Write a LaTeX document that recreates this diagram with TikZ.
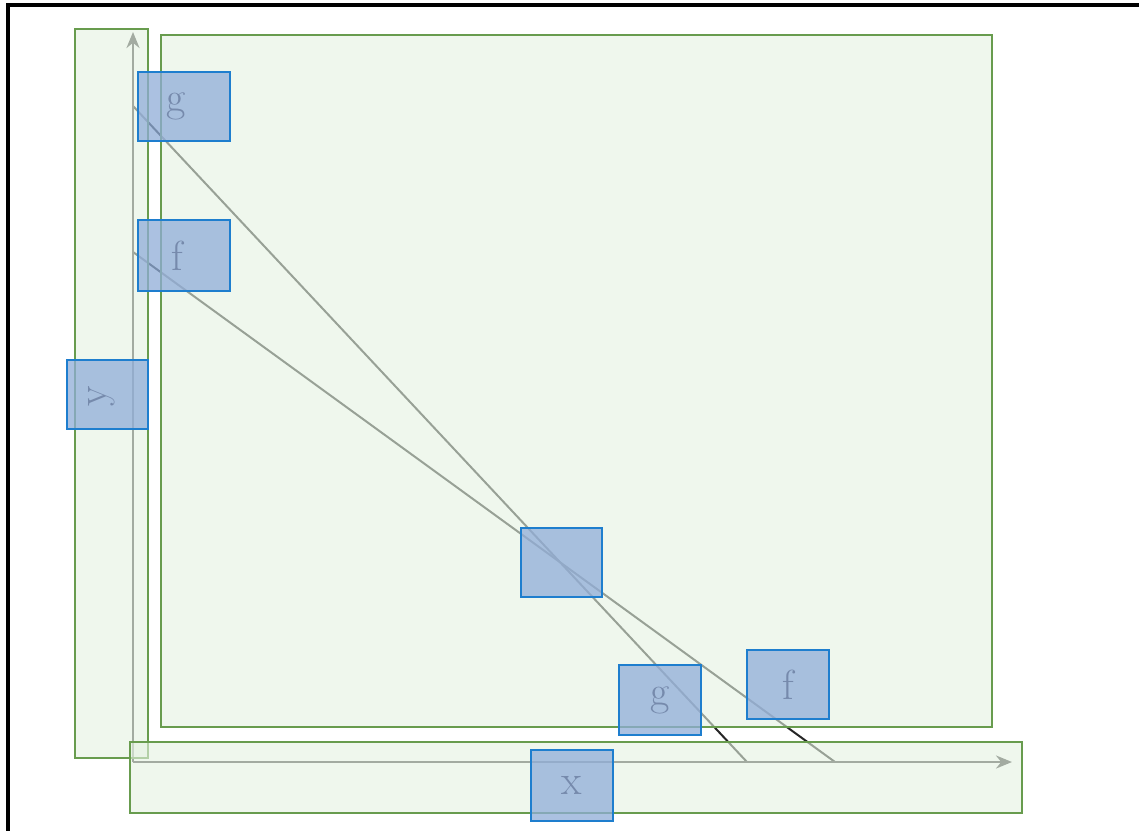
\documentclass[tikz,border=0pt]{standalone}
\usetikzlibrary{arrows.meta}
\definecolor{gfill}{RGB}{229,243,226}
\definecolor{gline}{RGB}{104,156,78}
\definecolor{bfill}{RGB}{144,173,216}
\definecolor{bline}{RGB}{30,126,206}
\definecolor{btext}{RGB}{118,138,172}
\tikzset{
  greenbox/.style={draw=gline, line width=1.5pt, fill=gfill, fill opacity=0.6, draw opacity=1, inner sep=0pt, outer sep=0pt},
  bluebox/.style={draw=bline, line width=1.8pt, fill=bfill, fill opacity=0.75, draw opacity=1, text=btext, text opacity=1, inner sep=0pt, outer sep=0pt, font=\fontsize{42}{46}\selectfont},
  plotline/.style={draw=black!85, line width=2pt},
  axis/.style={draw=black!75, line width=2.6pt, -{Stealth[length=16pt,width=13pt]}}
}
\begin{document}
\begin{tikzpicture}[x=1pt,y=-1pt]
\useasboundingbox (0,0) rectangle (1139,830);
\fill[white] (0,0) rectangle (1139,830);
\draw[line width=3.5pt] (8,5) rectangle (1160,850);
% plot lines and axes
\coordinate (g0) at (133,106);
\coordinate (g1) at (747,762);
\coordinate (f0) at (133,252);
\coordinate (f1) at (835,762);
\coordinate (o) at (133,762);
\coordinate (yend) at (133,32);
\coordinate (xend) at (1012,762);
\draw[plotline] (g0) -- (g1);
\draw[plotline] (f0) -- (f1);
\draw[axis] (o) -- (yend);
\draw[axis] (o) -- (xend);
% green areas
\node[greenbox, minimum width=73pt, minimum height=729pt] (gl) at (111.5,393.5) {};
\node[greenbox, minimum width=831pt, minimum height=692pt] (gbig) at (576.5,381) {};
\node[greenbox, minimum width=892pt, minimum height=71pt] (gbottom) at (576,777.5) {};
% blue labels
\node[bluebox, minimum width=92pt, minimum height=69pt] (gtop) at (184,106.5) {g\kern16pt};
\node[bluebox, minimum width=92pt, minimum height=71pt] (ftop) at (184,255.5) {f\kern13pt};
\node[bluebox, minimum width=81pt, minimum height=69pt] (ylab) at (107.5,394.5) {};
\node[text=btext, font=\fontsize{42}{46}\selectfont, rotate=90, inner sep=0pt] (ytext) at (102,396) {y};
\node[bluebox, minimum width=81pt, minimum height=69pt] (cross) at (561.5,562.5) {};
\node[bluebox, minimum width=82pt, minimum height=70pt] (gbot) at (660,700) {g};
\node[bluebox, minimum width=82pt, minimum height=69pt] (fbot) at (788,684.5) {f};
\node[bluebox, minimum width=82pt, minimum height=71pt] (xlab) at (572,785.5) {x};
\end{tikzpicture}
\end{document}
